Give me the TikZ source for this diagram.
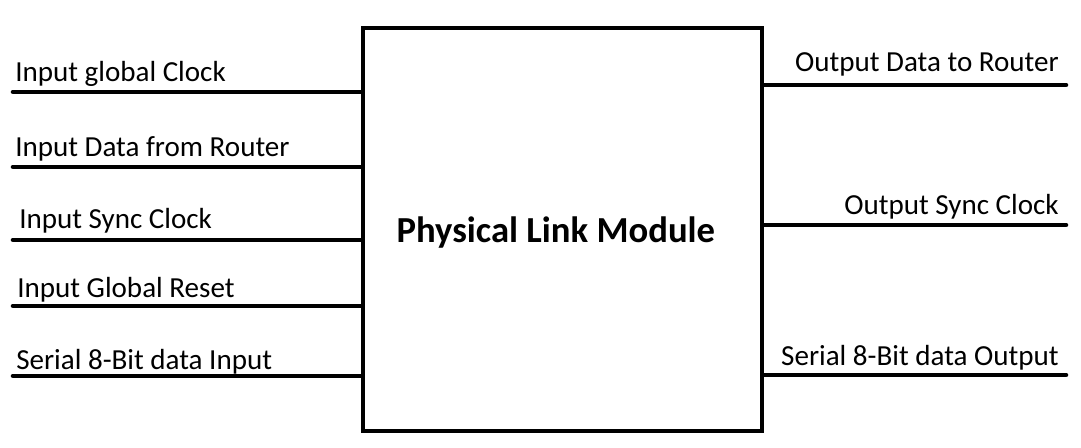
\documentclass[tikz,border=0pt]{standalone}
\usepackage{fontspec}
\setmainfont{Carlito}

\begin{document}
\begin{tikzpicture}[x=0.75pt, y=-0.75pt, line width=3.4pt, line cap=round]
  \tikzset{
    sig/.style={inner sep=0pt, font=\fontsize{21.8}{24}\selectfont},
    block/.style={draw, line cap=butt, minimum width=299pt, minimum height=302pt, inner sep=0pt},
    title/.style={inner sep=0pt, font=\fontsize{27.5}{30}\selectfont\bfseries}
  }
  \useasboundingbox (0,0) rectangle (1081,448);

  % Block
  \node[block] (plm) at (562.5,229.5) {};
  \node[title] (plmname) at ([xshift=-5pt, yshift=-2pt]plm.center) {Physical Link Module};

  % Inputs
  \foreach \y/\b/\x/\txt [count=\i] in {92/82/13/Input global Clock, 167/157/13/Input Data from Router,
      240/229/17/Input Sync Clock, 306/298/15/Input Global Reset, 376/370/14/Serial 8-Bit data Input} {
    \coordinate (in\i) at (13,\y);
    \draw (in\i) -- (in\i -| plm.west);
    \node[sig, anchor=base west] (inlbl\i) at (\x,\b) {\txt};
  }

  % Outputs
  \foreach \y/\b/\txt [count=\i] in {85/72/Output Data to Router, 225/215/Output Sync Clock,
      375/366/Serial 8-Bit data Output} {
    \coordinate (out\i) at (1066,\y);
    \draw (out\i -| plm.east) -- (out\i);
    \node[sig, anchor=base east] (outlbl\i) at (1061,\b) {\txt};
  }
\end{tikzpicture}
\end{document}
